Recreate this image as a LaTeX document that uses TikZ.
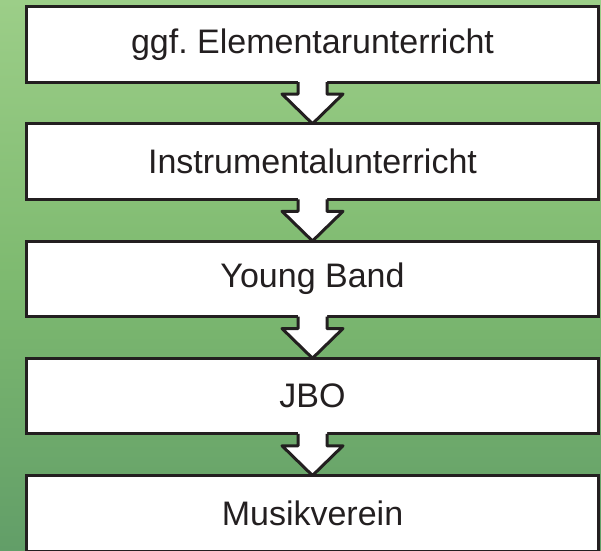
\documentclass[tikz,border=0pt]{standalone}
\usepackage{fontspec}
\setmainfont{Liberation Sans}
\usetikzlibrary{positioning}

\definecolor{inkdark}{HTML}{231F20}
\definecolor{leaftop}{RGB}{156,206,136}
\definecolor{leafmid}{RGB}{126,186,112}
\definecolor{leafbot}{RGB}{98,158,104}

\begin{document}
\frenchspacing
\begin{tikzpicture}[x=1pt, y=-1pt, node distance=41.75pt, line width=3pt,
  stage/.style={rectangle, draw=inkdark, fill=white, minimum width=572pt,
    minimum height=75.5pt, inner sep=0pt, outer sep=0pt, text=inkdark,
    font=\fontsize{34}{40}\selectfont},
  hollow/.style={draw=inkdark, line join=round}]
  % Background
  \useasboundingbox (0,0) rectangle (601,550);
  \shade[top color=leaftop, bottom color=leafbot, middle color=leafmid]
    (0,0) rectangle (601,550);

  % Stages
  \node[stage] (elem) at (312.5,44.25) {ggf. Elementarunterricht};
  \node[stage, below=of elem] (instr) {Instrumentalunterricht};
  \node[stage, below=of instr] (young) {Young Band};
  \node[stage, below=of young] (jbo) {JBO};
  \node[stage, below=of jbo] (verein) {Musikverein};

  % Block arrows between stages
  \foreach \a/\b in {elem/instr, instr/young, young/jbo, jbo/verein} {
    \fill[white] ([shift={(-14.5,-2)}]\a.south) -- ([shift={(-14.5,12)}]\a.south)
      -- ([shift={(-30.5,12)}]\a.south) -- (\b.north)
      -- ([shift={(30.5,12)}]\a.south) -- ([shift={(14.5,12)}]\a.south)
      -- ([shift={(14.5,-2)}]\a.south) -- cycle;
    \draw[hollow] ([xshift=-14.5pt]\a.south) -- ([shift={(-14.5,12)}]\a.south)
      -- ([shift={(-30.5,12)}]\a.south) -- (\b.north)
      -- ([shift={(30.5,12)}]\a.south) -- ([shift={(14.5,12)}]\a.south)
      -- ([xshift=14.5pt]\a.south);
  }
\end{tikzpicture}
\end{document}
